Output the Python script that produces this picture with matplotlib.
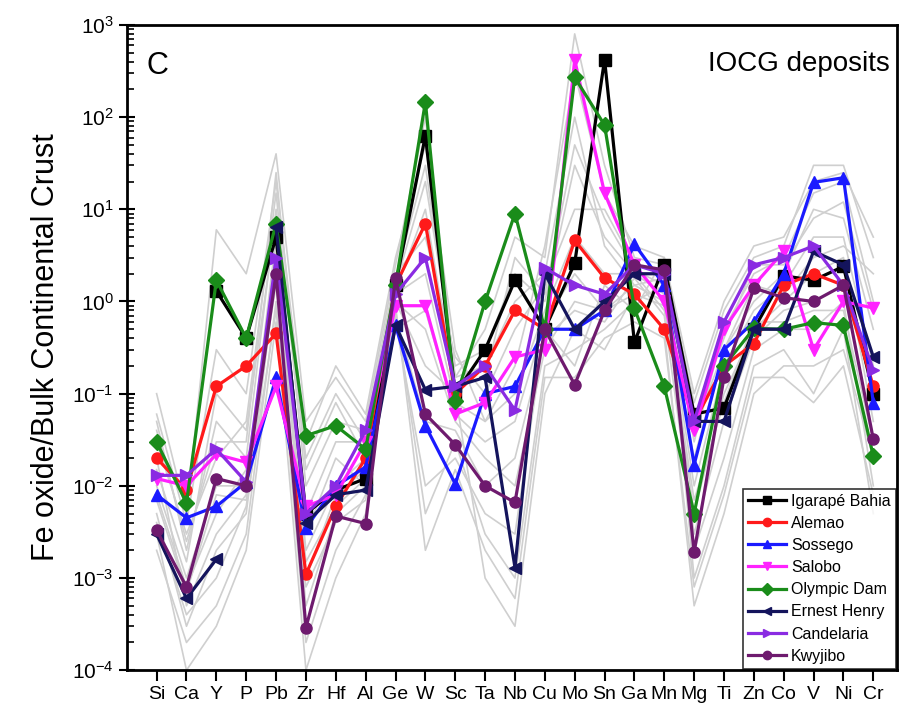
import numpy as np
import matplotlib
matplotlib.use("Agg")
import matplotlib.pyplot as plt
from matplotlib.ticker import NullFormatter

plt.rcParams['font.family'] = ['Liberation Sans', 'DejaVu Sans']

nan = np.nan
elements = ["Si", "Ca", "Y", "P", "Pb", "Zr", "Hf", "Al", "Ge", "W", "Sc", "Ta", "Nb",
            "Cu", "Mo", "Sn", "Ga", "Mn", "Mg", "Ti", "Zn", "Co", "V", "Ni", "Cr"]

# background samples (grey)
grey_lines = [
    [0.005, 0.0003, 0.002, 0.005, 2, 0.0005, 0.005, 0.01, 1.0, 0.5, 0.05, 0.02, 0.01, 0.3, 1.0, 0.8, 1.5, 1.0, 0.005, 0.1, 0.5, 1.0, 2.0, 3.0, 0.05],
    [0.05, 0.002, 0.05, 0.02, 10, 0.02, 0.1, 0.03, 1.5, 20, 0.2, 0.3, 2.0, 1.0, 30, 5, 2, 0.8, 0.02, 0.3, 1.0, 2.0, 10, 8, 0.5],
    [0.002, 0.0002, 0.0005, 0.003, 1.0, 0.0002, 0.002, 0.008, 0.8, 0.005, 0.03, 0.003, 0.001, 0.2, 0.3, 0.5, 1.0, 1.5, 0.002, 0.02, 0.3, 0.5, 0.5, 1.0, 0.01],
    [0.1, 0.005, 6, 2, 40, 0.05, 0.15, 0.05, 2.5, 100, 0.15, 0.5, 5, 3, 800, 30, 3, 2.5, 0.08, 0.8, 3, 4, 30, 30, 3],
    [0.01, 0.001, 0.01, 0.01, 5, 0.002, 0.01, 0.02, 1.2, 2, 0.08, 0.05, 0.1, 0.8, 5, 2, 2, 1.2, 0.01, 0.2, 0.8, 1.5, 5, 5, 0.2],
    [0.02, 0.0005, 0.003, 0.008, 3, 0.001, 0.008, 0.015, 0.6, 0.01, 0.02, 0.005, 0.003, 0.5, 0.2, 1.5, 0.8, 3, 0.001, 0.01, 0.2, 0.3, 0.1, 0.5, 0.005],
    [0.003, 0.0001, 0.0003, 0.002, 0.6, 0.0001, 0.001, 0.005, 1.0, 0.2, 0.1, 0.001, 0.0003, 0.1, 0.5, 0.3, 1.2, 0.5, 0.0005, 0.005, 0.1, 0.2, 0.2, 0.3, 0.02],
    [0.03, 0.003, 0.02, 0.05, 15, 0.01, 0.05, 0.04, 2, 5, 0.25, 0.1, 0.5, 1.5, 10, 10, 2.5, 2, 0.03, 0.5, 2, 3, 15, 20, 1],
    [0.008, 0.0008, 0.005, 0.015, 1.5, 0.003, 0.02, 0.01, 0.7, 0.05, 0.04, 0.01, 0.02, 0.4, 0.8, 0.6, 1.8, 0.7, 0.003, 0.05, 0.4, 0.8, 1, 1.5, 0.1],
    [0.015, 0.0015, 0.1, 0.04, 8, 0.005, 0.03, 0.03, 1.8, 30, 0.15, 0.2, 1, 2, 100, 4, 1.5, 1.8, 0.04, 0.3, 1.5, 1.2, 3, 4, 2],
    [0.004, 0.0004, 0.001, 0.006, 0.8, 0.0008, 0.004, 0.007, 0.9, 0.002, 0.015, 0.002, 0.0006, 0.15, 0.15, 0.4, 0.6, 0.4, 0.0008, 0.008, 0.15, 0.15, 0.08, 0.2, 0.008],
    [0.06, 0.004, 0.3, 0.1, 20, 0.03, 0.2, 0.06, 3, 50, 0.3, 0.05, 0.2, 4, 300, 15, 4, 3, 0.1, 1, 4, 5, 20, 25, 5],
    [0.007, 0.0007, 0.008, 0.007, 4, 0.0015, 0.006, 0.012, 0.5, 0.8, 0.06, 0.03, 0.05, 0.6, 2, 0.8, 1.2, 0.9, 0.007, 0.08, 0.6, 0.6, 0.8, 0.8, 0.03],
    [0.04, 0.0025, 0.03, 0.03, 25, 0.015, 0.08, 0.02, 1.3, 10, 0.12, 0.15, 3, 1.2, 50, 8, 2.2, 1.5, 0.05, 0.4, 2.5, 2.5, 8, 12, 0.8],
]

igarape = [nan, nan, 1.3, 0.4, 5, 0.005, 0.009, 0.012, 1.5, 63, 0.1, 0.3, 1.7, 0.5, 2.6, 420, 0.36, 2.5, 0.06, 0.07, 0.5, 1.9, 1.7, 2.4, 0.1]
alemao = [0.02, 0.009, 0.12, 0.2, 0.45, 0.0011, 0.006, 0.02, 1.5, 7, 0.1, 0.2, 0.8, 0.5, 4.6, 1.8, 1.2, 0.5, 0.05, 0.2, 0.35, 1.5, 2.0, 1.5, 0.12]
sossego = [0.008, 0.0045, 0.006, 0.011, 0.15, 0.0035, 0.01, 0.016, 0.55, 0.045, 0.0105, 0.1, 0.12, 0.5, 0.5, 0.8, 4.2, 1.5, 0.017, 0.3, 0.6, 2.0, 19.6, 22, 0.08]
salobo = [0.012, 0.01, 0.022, 0.018, 0.12, 0.006, 0.008, 0.03, 0.9, 0.9, 0.06, 0.08, 0.25, 0.3, 420, 15, 2.5, 1.0, 0.04, 0.5, 1.5, 3.5, 0.3, 1.0, 0.85]
olympic = [0.03, 0.0065, 1.7, 0.4, 7, 0.035, 0.045, 0.025, 1.5, 146, 0.083, 1.0, 9, 0.5, 270, 82, 0.84, 0.12, 0.005, 0.2, 0.51, 0.5, 0.59, 0.55, 0.021]
ernest = [0.003, 0.0006, 0.0016, nan, 6.5, 0.004, 0.008, 0.009, 0.55, 0.11, 0.12, 0.15, 0.0013, 2.0, 0.5, 1.0, 2.0, 2.0, 0.05, 0.05, 0.5, 0.5, 3.5, 2.5, 0.25]
candelaria = [0.013, 0.013, 0.025, 0.011, 3, 0.005, 0.01, 0.04, 1.2, 3, 0.12, 0.2, 0.066, 2.3, 1.5, 1.2, 2.5, 2.0, 0.05, 0.6, 2.5, 3.0, 4.0, 1.5, 0.18]
kwyjibo = [0.0033, 0.0008, 0.012, 0.01, 2, 0.00029, 0.0047, 0.0039, 1.8, 0.06, 0.028, 0.01, 0.0066, 0.5, 0.125, 0.8, 2.5, 2.2, 0.0019, 0.15, 1.4, 1.1, 1.0, 1.5, 0.032]

series = [
    ("Igarapé Bahia", igarape, "black", "s"),
    ("Alemao", alemao, "#ff1a1a", "o"),
    ("Sossego", sossego, "#1a1aff", "^"),
    ("Salobo", salobo, "#ff22ff", "v"),
    ("Olympic Dam", olympic, "#1a8c1a", "D"),
    ("Ernest Henry", ernest, "#14145c", "<"),
    ("Candelaria", candelaria, "#8a2be2", ">"),
    ("Kwyjibo", kwyjibo, "#6e1a6e", "o"),
]

x = np.arange(len(elements))

fig = plt.figure(figsize=(8.99, 7.13), dpi=100)
ax = fig.add_axes([0.141, 0.06, 0.857, 0.905])

for g in grey_lines:
    ax.plot(x, g, color="#cfcfcf", lw=1.2, zorder=1)

for name, vals, col, mk in series:
    ax.plot(x, vals, color=col, marker=mk, ms=8, lw=2.3, label=name, zorder=3)

ax.set_yscale("log")
ax.set_ylim(1e-4, 1e3)
ax.set_xlim(-1, 24.8)
ax.set_xticks(x)
ax.set_xticklabels(elements, fontsize=14)
ax.yaxis.set_minor_formatter(NullFormatter())
ax.set_ylabel("Fe oxide/Bulk Continental Crust", fontsize=22, labelpad=8)
ax.tick_params(axis="y", which="major", direction="inout", length=12, width=1.5, labelsize=15)
ax.tick_params(axis="y", which="minor", direction="in", length=5, width=1.2)
ax.tick_params(axis="x", which="major", direction="out", length=8, width=1.5)
for s in ax.spines.values():
    s.set_linewidth(2)

ax.text(0.025, 0.96, "C", transform=ax.transAxes, fontsize=22, va="top")
ax.text(0.99, 0.96, "IOCG deposits", transform=ax.transAxes, fontsize=20, va="top", ha="right")

leg = ax.legend(loc="lower right", bbox_to_anchor=(1.0, 0.0), fontsize=11.5, frameon=True,
                fancybox=False, edgecolor="black", borderaxespad=0.1, handlelength=2.4,
                labelspacing=0.45, markerscale=0.75, handletextpad=0.3, borderpad=0.3)
leg.get_frame().set_linewidth(1.2)

fig.savefig("out.png", dpi=100)
